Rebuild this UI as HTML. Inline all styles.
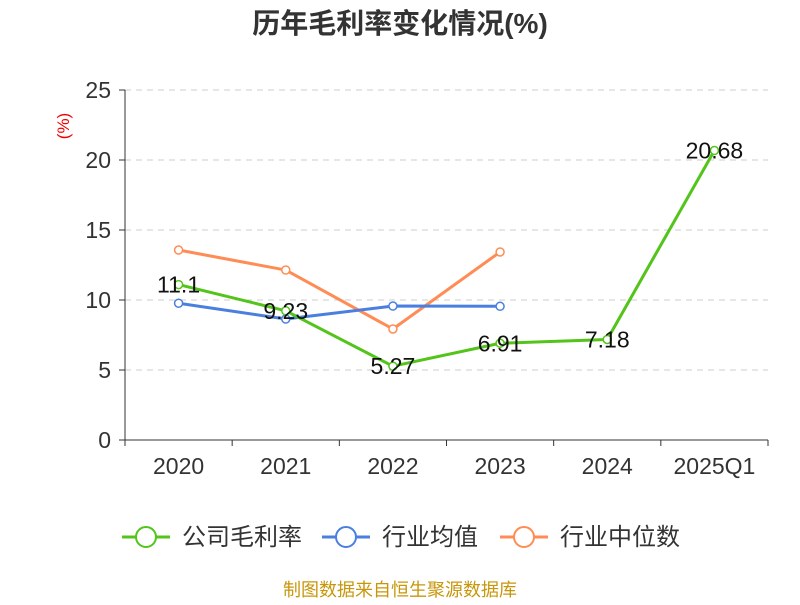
<!DOCTYPE html>
<html><head><meta charset="utf-8"><style>
body{margin:0;background:#fff;font-family:"Liberation Sans","Noto Sans CJK SC",sans-serif;}
</style></head><body>
<svg id="chart" width="800" height="600" xmlns="http://www.w3.org/2000/svg" style="font-family:'Liberation Sans','Noto Sans CJK SC',sans-serif">
<text x="400" y="33" text-anchor="middle" font-size="28" font-weight="bold" fill="#333">历年毛利率变化情况(%)</text>
<text x="0" y="0" transform="translate(69,126) rotate(-90)" text-anchor="middle" font-size="17" fill="#e00">(%)</text>
<g id="grid"></g><g id="axes"></g><g id="series"></g>
<g font-size="24" fill="#333">
 <g><line x1="122" y1="537" x2="170" y2="537" stroke="#52c41a" stroke-width="3"/><circle cx="146" cy="537" r="10" fill="#fff" stroke="#52c41a" stroke-width="2"/><text x="182" y="545">公司毛利率</text></g>
 <g><line x1="322" y1="537" x2="370" y2="537" stroke="#4a7fe0" stroke-width="3"/><circle cx="346" cy="537" r="10" fill="#fff" stroke="#4a7fe0" stroke-width="2"/><text x="382" y="545">行业均值</text></g>
 <g><line x1="500" y1="537" x2="548" y2="537" stroke="#ff8c55" stroke-width="3"/><circle cx="524" cy="537" r="10" fill="#fff" stroke="#ff8c55" stroke-width="2"/><text x="560" y="545">行业中位数</text></g>
</g>
<text x="400" y="596" text-anchor="middle" font-size="18" fill="#c8960a">制图数据来自恒生聚源数据库</text>
</svg>
<script>
const categories=["2020","2021","2022","2023","2024","2025Q1"];
const companyMargin=[11.1,9.23,5.27,6.91,7.18,20.68];
const industryAvg=[9.77,8.64,9.57,9.55];
const industryMedian=[13.57,12.14,7.93,13.43];
const yTicks=[0,5,10,15,20,25];
const NS="http://www.w3.org/2000/svg";
const x0=125,x1=768,yBase=440,yTop=90,yMax=25;
const bw=(x1-x0)/categories.length;
const xs=i=>x0+bw*(i+0.5);
const ys=v=>yBase-(v/yMax)*(yBase-yTop);
function mk(tag,attrs,parent){const e=document.createElementNS(NS,tag);for(const k in attrs)e.setAttribute(k,attrs[k]);parent.appendChild(e);return e;}
const grid=document.getElementById('grid'),axes=document.getElementById('axes'),series=document.getElementById('series');
yTicks.forEach(t=>{
 if(t>0){const l=mk('line',{x1:x0,x2:x1,y1:ys(t),y2:ys(t),stroke:'#ccc','stroke-dasharray':'6,5'},grid);
 
 }
 mk('line',{x1:x0-6,x2:x0,y1:ys(t),y2:ys(t),stroke:'#333'},axes);
 const tx=mk('text',{x:x0-14,y:ys(t)+8,'text-anchor':'end','font-size':23,fill:'#333'},axes);tx.textContent=t;
 
 
});
mk('line',{x1:x0,x2:x0,y1:yTop,y2:yBase,stroke:'#333'},axes);
mk('line',{x1:x0,x2:x1,y1:yBase,y2:yBase,stroke:'#333'},axes);
for(let i=0;i<=categories.length;i++)mk('line',{x1:x0+bw*i,x2:x0+bw*i,y1:yBase,y2:yBase+6,stroke:'#333'},axes);
categories.forEach((c,i)=>{const t=mk('text',{x:xs(i),y:yBase+34,'text-anchor':'middle','font-size':23,fill:'#333'},axes);t.textContent=c;
 
 });
function drawLine(vals,color,name,labels){
 const g=mk('g',{},series);
 
 
 mk('polyline',{points:vals.map((v,i)=>xs(i)+','+ys(v)).join(' '),fill:'none',stroke:color,'stroke-width':3,'stroke-linejoin':'round'},g);
 vals.forEach((v,i)=>{const c=mk('circle',{cx:xs(i),cy:ys(v),r:4,fill:'#fff',stroke:color,'stroke-width':1.5},g);
  
  
  if(labels){const t=mk('text',{x:xs(i),y:ys(v)+8,'text-anchor':'middle','font-size':23,fill:'#111'},g);t.textContent=v;
   
   }});
}
drawLine(industryMedian,'#ff8c55','industry-median-line',false);
drawLine(industryAvg,'#4a7fe0','industry-avg-line',false);
drawLine(companyMargin,'#52c41a','company-margin-line',true);
</script>
</body></html>
